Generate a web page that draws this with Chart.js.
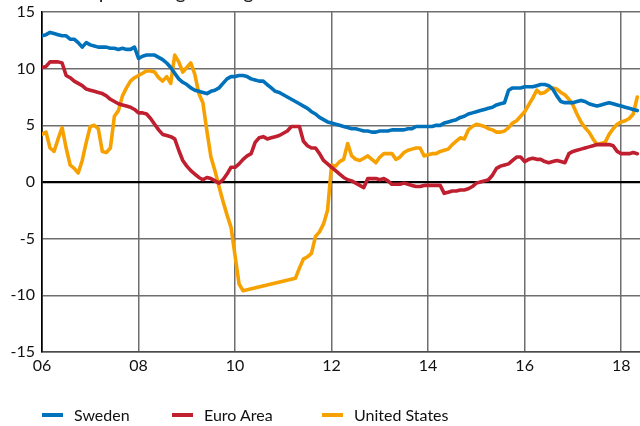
<!DOCTYPE html>
<html>
<head>
<meta charset="utf-8">
<script src="https://cdn.jsdelivr.net/npm/chart.js@4"></script>
<style>
  body { margin: 0; background: #fff; overflow: hidden; }
  #wrap { position: relative; width: 640px; height: 426px; overflow: hidden; }
  #title { position: absolute; left: 32px; top: -19px; font: 20px Lato, sans-serif; line-height: 20px; color: #222; white-space: nowrap; }
  #legend { position: absolute; left: 42px; top: 405px; display: flex; font: 16px Lato, sans-serif; color: #111; }
  .item { display: flex; align-items: center; }
  .swatch { width: 21px; height: 4px; margin-right: 11px; }
</style>
</head>
<body>
<div id="wrap">
  <div id="title">Annual percentage change</div>
  <canvas id="chart" width="640" height="426"></canvas>
  <div id="legend"></div>
</div>
<script>
// monthly observations starting Jan 2006
var startYear = 2006;
var tickYears = [2006, 2008, 2010, 2012, 2014, 2016, 2018];

var sweden = [
  12.9, 13.0, 13.2, 13.1, 13.0, 12.9, 12.9, 12.6, 12.6, 12.3,
  11.9, 12.3, 12.1, 12.0, 11.9, 11.9, 11.9, 11.8, 11.8, 11.7,
  11.8, 11.7, 11.7, 11.9, 10.9, 11.1, 11.2, 11.2, 11.2, 11.0,
  10.8, 10.5, 10.1, 9.6, 9.1, 8.8, 8.6, 8.3, 8.1, 8.0,
  7.9, 7.8, 8.0, 8.1, 8.3, 8.7, 9.1, 9.3, 9.3, 9.4,
  9.4, 9.3, 9.1, 9.0, 8.9, 8.9, 8.6, 8.3, 8.0, 7.9,
  7.7, 7.5, 7.3, 7.1, 6.9, 6.7, 6.5, 6.2, 6.0, 5.7,
  5.5, 5.3, 5.2, 5.1, 5.0, 4.9, 4.8, 4.7, 4.7, 4.6,
  4.5, 4.5, 4.4, 4.4, 4.5, 4.5, 4.5, 4.6, 4.6, 4.6,
  4.6, 4.7, 4.7, 4.9, 4.9, 4.9, 4.9, 4.9, 5.0, 5.0,
  5.2, 5.3, 5.4, 5.5, 5.7, 5.8, 6.0, 6.1, 6.2, 6.3,
  6.4, 6.5, 6.6, 6.8, 6.9, 7.0, 8.1, 8.3, 8.3, 8.3,
  8.4, 8.4, 8.4, 8.5, 8.6, 8.6, 8.5, 8.2, 7.6, 7.1,
  7.0, 7.0, 7.0, 7.1, 7.2, 7.1, 6.9, 6.8, 6.7, 6.8,
  6.9, 7.0, 6.9, 6.8, 6.7, 6.6, 6.5, 6.4, 6.3
];

var euroArea = [
  10.1, 10.2, 10.6, 10.6, 10.6, 10.5, 9.4, 9.2, 8.9, 8.7,
  8.5, 8.2, 8.1, 8.0, 7.9, 7.8, 7.6, 7.3, 7.1, 6.9,
  6.8, 6.7, 6.6, 6.4, 6.1, 6.1, 6.0, 5.6, 5.1, 4.6,
  4.2, 4.1, 4.0, 3.8, 2.8, 1.9, 1.4, 1.0, 0.7, 0.4,
  0.2, 0.4, 0.3, 0.1, -0.1, 0.2, 0.7, 1.3, 1.3, 1.6,
  2.0, 2.3, 2.5, 3.5, 3.9, 4.0, 3.8, 3.9, 4.0, 4.1,
  4.3, 4.5, 4.9, 4.9, 4.9, 3.6, 3.2, 3.0, 3.0, 2.5,
  1.9, 1.6, 1.3, 1.0, 0.7, 0.4, 0.2, 0.1, -0.1, -0.3,
  -0.5, 0.3, 0.3, 0.3, 0.2, 0.3, 0.1, -0.2, -0.2, -0.2,
  -0.1, -0.2, -0.3, -0.4, -0.4, -0.3, -0.3, -0.3, -0.3, -0.3,
  -1.0, -0.9, -0.8, -0.8, -0.7, -0.7, -0.6, -0.4, -0.1, 0.0,
  0.1, 0.2, 0.6, 1.2, 1.4, 1.5, 1.6, 1.9, 2.2, 2.2,
  1.8, 2.0, 2.1, 2.0, 2.0, 1.8, 1.7, 1.8, 1.9, 1.8,
  1.7, 2.5, 2.7, 2.8, 2.9, 3.0, 3.1, 3.2, 3.3, 3.3,
  3.3, 3.3, 3.2, 2.7, 2.5, 2.5, 2.5, 2.6, 2.5
];

// gap in 2010-2011 is drawn as a straight line, as in the source
var unitedStates = [
  4.2, 4.4, 3.0, 2.7, 3.8, 4.8, 3.0, 1.5, 1.2, 0.8,
  1.9, 3.5, 4.9, 5.0, 4.7, 2.7, 2.6, 3.0, 5.8, 6.3,
  7.6, 8.3, 8.9, 9.2, 9.4, 9.6, 9.8, 9.8, 9.7, 9.2,
  8.9, 9.3, 8.7, 11.2, 10.6, 9.7, 10.1, 10.5, 9.5, 7.8,
  7.0, 4.5, 2.2, 1.0, -0.4, -1.7, -2.9, -4.0, -6.5, -9.0,
  -9.6, null, null, null, null, null, null, null, null, null,
  null, null, null, -8.5, -7.6, -6.8, -6.6, -6.3, -4.8, -4.4,
  -3.7, -2.5, 1.5, 1.4, 1.8, 2.0, 3.4, 2.3, 2.0, 1.9,
  2.1, 2.3, 2.0, 1.7, 2.2, 2.5, 2.5, 2.5, 2.0, 2.2,
  2.6, 2.8, 2.9, 3.0, 3.0, 2.3, 2.4, 2.5, 2.5, 2.7,
  2.8, 2.9, 3.3, 3.6, 3.9, 3.8, 4.6, 4.9, 5.1, 5.0,
  4.9, 4.7, 4.6, 4.4, 4.4, 4.5, 4.8, 5.2, 5.4, 5.8,
  6.2, 6.8, 7.4, 8.1, 7.8, 7.9, 8.2, 8.3, 8.2, 7.9,
  7.7, 7.3, 6.8, 6.0, 5.3, 4.8, 4.4, 3.8, 3.3, 3.4,
  3.5, 4.2, 4.7, 5.1, 5.3, 5.4, 5.6, 6.0, 7.5
];

function toPoints(arr) {
  return arr.map(function (v, i) { return { x: startYear + i / 12, y: v }; });
}

var font = { family: 'Lato, sans-serif', size: 16 };

var chart = new Chart(document.getElementById('chart'), {
  type: 'line',
  data: {
    datasets: [
      { label: 'Sweden', data: toPoints(sweden), borderColor: '#0072bb' },
      { label: 'Euro Area', data: toPoints(euroArea), borderColor: '#c01f30' },
      { label: 'United States', data: toPoints(unitedStates), borderColor: '#f7a100', spanGaps: true }
    ]
  },
  options: {
    responsive: false,
    animation: false,
    layout: { padding: { top: 12, right: 0, left: 0, bottom: 0 } },
    elements: {
      line: { borderWidth: 3.6, tension: 0, borderCapStyle: 'round', borderJoinStyle: 'round' },
      point: { radius: 0 }
    },
    plugins: { legend: { display: false }, tooltip: { enabled: false } },
    scales: {
      x: {
        type: 'linear',
        min: startYear,
        max: 2018.39,
        afterFit: function (s) { s.height = 74; s.paddingLeft = 0; s.paddingRight = 0; },
        afterBuildTicks: function (s) { s.ticks = tickYears.map(function (v) { return { value: v }; }); },
        ticks: {
          includeBounds: false,
          autoSkip: false,
          maxRotation: 0,
          padding: 4,
          color: '#111',
          font: font,
          callback: function (v) { return String(v % 100).padStart(2, '0'); }
        },
        grid: {
          drawTicks: false,
          color: function (c) { return c.tick && c.tick.value === startYear ? '#000' : '#6e6e6e'; },
          lineWidth: 1.5
        },
        border: { color: '#4a4a4a', width: 1.5 }
      },
      y: {
        min: -15,
        max: 15,
        afterFit: function (s) { s.width = 42; s.paddingTop = 0; s.paddingBottom = 0; },
        ticks: { stepSize: 5, padding: 7, color: '#111', font: font },
        grid: {
          drawTicks: false,
          color: function (c) { return c.tick && c.tick.value === 0 ? '#000' : '#6e6e6e'; },
          lineWidth: function (c) { return c.tick && c.tick.value === 0 ? 2.2 : 1.5; }
        },
        border: { color: '#000', width: 1.5 }
      }
    }
  }
});

// legend built from the chart's datasets
var itemWidths = [130, 150, 200];
var legend = document.getElementById('legend');
chart.data.datasets.forEach(function (ds, i) {
  var item = document.createElement('div');
  item.className = 'item';
  item.style.width = itemWidths[i] + 'px';
  var sw = document.createElement('span');
  sw.className = 'swatch';
  sw.style.background = ds.borderColor;
  var tx = document.createElement('span');
  tx.textContent = ds.label;
  item.appendChild(sw);
  item.appendChild(tx);
  legend.appendChild(item);
});
</script>
</body>
</html>
